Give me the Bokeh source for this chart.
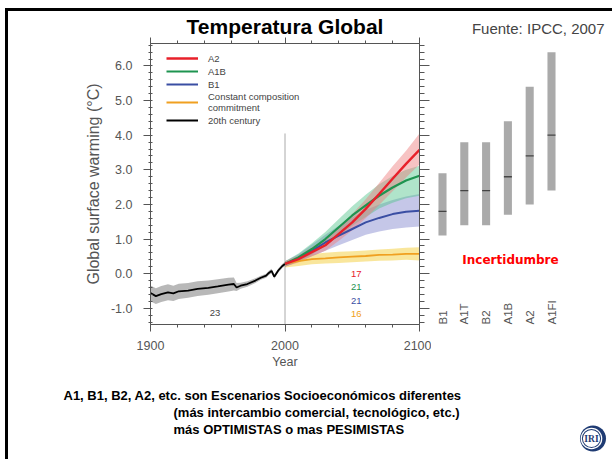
import math
from bokeh.plotting import figure
from bokeh.models import (Range1d, LinearAxis, SingleIntervalTicker, PrintfTickFormatter,
                          Legend, LegendItem, Label, Spacer)
from bokeh.layouts import row, column
from bokeh.embed import file_html
from bokeh.resources import INLINE
from bokeh.core.properties import value

FONT = "Liberation Sans"

# ---------------- data ----------------
hist_years = [1900, 1904, 1908, 1913, 1917, 1921, 1928, 1935, 1943, 1950, 1958, 1962,
              1964, 1967, 1972, 1978, 1982, 1986, 1988, 1990, 1992, 1995, 1998, 2000]
hist_mean = [-0.56, -0.65, -0.59, -0.54, -0.57, -0.51, -0.49, -0.44, -0.41, -0.37, -0.32, -0.30,
             -0.40, -0.35, -0.30, -0.20, -0.12, -0.06, 0.02, 0.08, -0.09, 0.09, 0.22, 0.28]
hist_lo = [-0.80, -0.88, -0.82, -0.77, -0.79, -0.73, -0.70, -0.65, -0.61, -0.57, -0.52, -0.49,
           -0.50, -0.44, -0.38, -0.27, -0.18, -0.12, -0.04, 0.01, -0.15, 0.03, 0.16, 0.22]
hist_hi = [-0.34, -0.42, -0.36, -0.31, -0.35, -0.29, -0.27, -0.22, -0.20, -0.16, -0.12, -0.11,
           -0.27, -0.26, -0.22, -0.13, -0.06, 0.00, 0.08, 0.14, -0.03, 0.15, 0.28, 0.34]

proj_years = [2000, 2010, 2020, 2030, 2040, 2050, 2060, 2070, 2080, 2090, 2100]
a2_mean = [0.28, 0.42, 0.62, 0.82, 1.15, 1.48, 1.87, 2.30, 2.74, 3.17, 3.58]
a2_lo = [0.20, 0.32, 0.50, 0.66, 0.95, 1.25, 1.60, 1.98, 2.38, 2.78, 3.15]
a2_hi = [0.36, 0.52, 0.76, 0.99, 1.36, 1.72, 2.15, 2.62, 3.10, 3.55, 4.05]
a1b_mean = [0.28, 0.47, 0.71, 1.00, 1.34, 1.68, 1.97, 2.25, 2.49, 2.69, 2.83]
a1b_lo = [0.20, 0.36, 0.55, 0.80, 1.08, 1.38, 1.64, 1.88, 2.05, 2.18, 2.25]
a1b_hi = [0.36, 0.58, 0.88, 1.20, 1.58, 1.95, 2.28, 2.58, 2.82, 3.00, 3.12]
b1_mean = [0.28, 0.45, 0.66, 0.90, 1.10, 1.29, 1.48, 1.61, 1.72, 1.79, 1.82]
b1_lo = [0.20, 0.34, 0.50, 0.66, 0.82, 0.97, 1.12, 1.22, 1.29, 1.33, 1.36]
b1_hi = [0.36, 0.56, 0.84, 1.12, 1.38, 1.62, 1.84, 2.00, 2.13, 2.23, 2.30]
cc_mean = [0.28, 0.36, 0.42, 0.44, 0.47, 0.49, 0.51, 0.54, 0.55, 0.57, 0.57]
cc_lo = [0.18, 0.22, 0.27, 0.29, 0.31, 0.33, 0.35, 0.37, 0.38, 0.40, 0.38]
cc_hi = [0.36, 0.50, 0.57, 0.60, 0.63, 0.65, 0.67, 0.70, 0.72, 0.75, 0.76]

# number of models per experiment
model_counts = [17, 21, 21, 16]
count_levels = [0.0, -0.4, -0.78, -1.16]
count_year = 2053
hist_count = 23
hist_count_year = 1948
hist_count_level = -1.13

divider_year = 2000
divider_top = 4.05

scenarios = ["B1", "A1T", "B2", "A1B", "A2", "A1FI"]
range_lo = [1.1, 1.4, 1.4, 1.7, 2.0, 2.4]
range_hi = [2.9, 3.8, 3.8, 4.4, 5.4, 6.4]
best_est = [1.8, 2.4, 2.4, 2.8, 3.4, 4.0]

notes = ["A1, B1, B2, A2, etc. son Escenarios Socioeconómicos diferentes",
         "(más intercambio comercial, tecnológico, etc.)",
         "más OPTIMISTAS o mas PESIMISTAS"]

# ---------------- colours ----------------
RED, GREEN, BLUE, ORANGE = "#e8202a", "#1e9450", "#3a4ea3", "#f0a020"
AX = "#555555"

Y_LO, Y_HI = -1.47, 6.65
X_LO, X_HI = 1900, 2100

# ---------------- main chart ----------------
p = figure(width=423, height=361, x_range=Range1d(X_LO, X_HI), y_range=Range1d(Y_LO, Y_HI),
           output_backend="svg", toolbar_location=None,
           min_border_left=142, min_border_right=12, min_border_top=32, min_border_bottom=48,
           title="Temperatura Global")
p.grid.visible = False
p.outline_line_color = None
p.title.align = "center"
p.title.text_font = FONT
p.title.text_font_size = "21px"
p.title.text_font_style = "bold"
p.title.text_color = "black"
p.title.standoff = 0

xt = SingleIntervalTicker(interval=100, num_minor_ticks=5)
yt = SingleIntervalTicker(interval=1, num_minor_ticks=5)


def base_style(ax):
    ax.axis_line_color = AX
    ax.major_tick_line_color = AX
    ax.minor_tick_line_color = AX
    ax.major_label_text_font = FONT
    ax.major_label_text_font_size = "12.5px"
    ax.major_label_text_color = AX
    ax.axis_label_text_font = FONT
    ax.axis_label_text_font_style = "normal"
    ax.axis_label_text_color = AX


def hide_labels(ax):
    ax.major_label_text_font_size = "0px"
    ax.major_label_text_alpha = 0
    ax.major_label_text_color = None
    ax.major_label_standoff = 0


xa = p.xaxis[0]
xa.ticker = xt
base_style(xa)
xa.major_tick_out, xa.major_tick_in = 7, 0
xa.minor_tick_out, xa.minor_tick_in = 3, 0
xa.major_label_standoff = 9
xa.axis_label = "Year"
xa.axis_label_text_font_size = "12.5px"
xa.axis_label_standoff = 2

ya = p.yaxis[0]
ya.ticker = yt
ya.formatter = PrintfTickFormatter(format="%.1f")
base_style(ya)
ya.major_tick_out, ya.major_tick_in = 7, 0
ya.minor_tick_out, ya.minor_tick_in = 2, 2
ya.major_label_standoff = 11
ya.axis_label = "Global surface warming (°C)"
ya.axis_label_text_font_size = "16px"
ya.axis_label_standoff = 6

top_ax = LinearAxis(ticker=xt)
base_style(top_ax)
hide_labels(top_ax)
top_ax.major_tick_out, top_ax.major_tick_in = 6, 0
top_ax.minor_tick_out, top_ax.minor_tick_in = 3, 0
p.add_layout(top_ax, "above")

right_ax = LinearAxis(ticker=yt)
base_style(right_ax)
hide_labels(right_ax)
right_ax.major_tick_out, right_ax.major_tick_in = 10, 0
right_ax.minor_tick_out, right_ax.minor_tick_in = 5, 0
p.add_layout(right_ax, "right")

p.segment(x0=[divider_year], y0=[Y_LO], x1=[divider_year], y1=[divider_top],
          line_color="#aaaaaa", line_width=1)

# uncertainty bands
p.varea(x=hist_years, y1=hist_lo, y2=hist_hi, fill_color="#9a9a9a", fill_alpha=0.7)
p.varea(x=proj_years, y1=cc_lo, y2=cc_hi, fill_color="#f5d65a", fill_alpha=0.6)
p.varea(x=proj_years, y1=b1_lo, y2=b1_hi, fill_color="#8c90d2", fill_alpha=0.5)
p.varea(x=proj_years, y1=a1b_lo, y2=a1b_hi, fill_color="#4fc48a", fill_alpha=0.45)
p.varea(x=proj_years, y1=a2_lo, y2=a2_hi, fill_color="#ee7b7b", fill_alpha=0.45)

# mean lines
r_hist = p.line(hist_years, hist_mean, line_color="black", line_width=1.8)
r_cc = p.line(proj_years, cc_mean, line_color=ORANGE, line_width=1.8)
r_b1 = p.line(proj_years, b1_mean, line_color=BLUE, line_width=2)
r_a1b = p.line(proj_years, a1b_mean, line_color=GREEN, line_width=2.2)
r_a2 = p.line(proj_years, a2_mean, line_color=RED, line_width=2.4)

p.text(x=[count_year] * len(model_counts), y=count_levels, text=[str(c) for c in model_counts],
       text_color=[RED, GREEN, BLUE, ORANGE], text_font=value(FONT), text_font_size="9.5px",
       text_align="center", text_baseline="middle")
p.text(x=[hist_count_year], y=[hist_count_level], text=[str(hist_count)], text_color="#444444",
       text_font=value(FONT), text_font_size="9.5px", text_align="center", text_baseline="middle")

legend = Legend(items=[
    LegendItem(label="A2", renderers=[r_a2]),
    LegendItem(label="A1B", renderers=[r_a1b]),
    LegendItem(label="B1", renderers=[r_b1]),
    LegendItem(label="Constant composition\ncommitment", renderers=[r_cc]),
    LegendItem(label="20th century", renderers=[r_hist]),
], location=(16, 198))
legend.border_line_color = None
legend.background_fill_alpha = 0
legend.label_text_font = FONT
legend.label_text_font_size = "9.5px"
legend.label_text_color = "#444444"
legend.glyph_width = 32
legend.glyph_height = 12
legend.label_height = 12
legend.label_standoff = 10
legend.spacing = 1
legend.padding = 0
legend.margin = 0
p.add_layout(legend)

# ---------------- scenario ranges panel ----------------
BX_LO = -11 / 21.8
BX_HI = BX_LO + 181 / 21.8
pb = figure(width=181, height=361, x_range=Range1d(BX_LO, BX_HI), y_range=p.y_range,
            output_backend="svg", toolbar_location=None, x_axis_location=None, y_axis_location=None,
            min_border_left=0, min_border_right=0, min_border_top=32, min_border_bottom=48,
            title="Fuente: IPCC, 2007")
pb.grid.visible = False
pb.outline_line_color = None
pb.title.align = "right"
pb.title.offset = 8
pb.title.text_font = FONT
pb.title.text_font_size = "15px"
pb.title.text_font_style = "normal"
pb.title.standoff = 13

idx = list(range(len(scenarios)))
pb.vbar(x=idx, bottom=range_lo, top=range_hi, width=0.37, fill_color="#aaaaaa", line_color=None)
pb.scatter(x=idx, y=best_est, marker="dash", size=8, line_color="#444444", line_width=1.3)
pb.text(x=idx, y=[Y_LO] * len(idx), text=scenarios, angle=math.pi / 2, text_align="left",
        text_baseline="middle", text_font=value(FONT), text_font_size="11.5px", text_color=AX)
pb.add_layout(Label(x=3.12, y=0.40, text="Incertidumbre", text_color="#ff0000",
                    text_font="DejaVu Sans", text_font_style="bold", text_font_size="12px",
                    text_align="center", text_baseline="middle"))

# ---------------- notes + logo ----------------
pf = figure(width=604, height=87, x_range=Range1d(0, 604), y_range=Range1d(87, 0),
            output_backend="svg", toolbar_location=None, x_axis_location=None, y_axis_location=None,
            min_border=0)
pf.grid.visible = False
pf.outline_line_color = None
pf.text(x=[55, 165, 165], y=[23, 40, 57], text=notes, text_font=value(FONT),
        text_font_style="bold", text_font_size="13px", text_baseline="middle", text_color="black")
pf.circle(x=[584.5], y=[66], radius=13, fill_color="#1f3b73", line_color=None)
pf.circle(x=[583], y=[66], radius=10.8, fill_color="white", line_color=None)
pf.annulus(x=[583], y=[66], inner_radius=8.6, outer_radius=9.6, fill_color="#1f3b73", line_color=None)
pf.text(x=[583], y=[66.5], text=["IRI"], text_font=value("Liberation Serif"), text_font_style="bold",
        text_font_size="9.5px", text_color="#1f3b73", text_align="center", text_baseline="middle")

black = {"background-color": "black"}
layout = column(
    Spacer(width=612, height=8),
    row(Spacer(width=5, height=451),
        column(Spacer(width=607, height=3, styles=black),
               row(Spacer(width=3, height=448, styles=black),
                   column(row(p, pb), pf)))))

open("out.html", "w").write(file_html(layout, INLINE))
